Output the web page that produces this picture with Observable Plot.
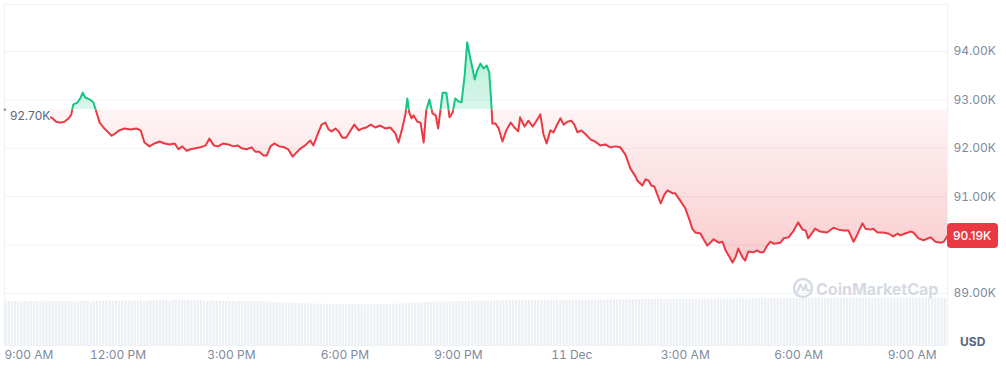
<!DOCTYPE html>
<html><head><meta charset="utf-8">
<script src="https://cdn.jsdelivr.net/npm/d3@7"></script>
<script src="https://cdn.jsdelivr.net/npm/@observablehq/plot@0.6"></script>
<style>
html,body{margin:0;padding:0;background:#fff;}
#chart{position:relative;width:1006px;height:370px;font-family:Inter,sans-serif;}
#chart svg{position:absolute;left:0;top:0;}
</style></head><body><div id="chart"></div>
<script>
// minutes after 9:00 AM (10 Dec), price in USD
const priceSeries = [[0,92800],[10,92780],[25,92720],[41,92700],[57,92680],[70,92660],[76,92620],[82,92550],[89,92530],[95,92550],[102,92620],[106,92700],[109,92900],[116,92950],[121,93050],[124,93150],[128,93050],[135,93010],[141,92950],[146,92740],[151,92530],[157,92430],[163,92350],[170,92260],[176,92310],[182,92370],[190,92410],[200,92390],[209,92410],[216,92370],[222,92120],[230,92040],[238,92100],[246,92140],[254,92100],[262,92080],[270,92100],[276,91980],[282,92040],[289,91950],[295,91980],[303,92000],[311,92020],[319,92060],[325,92200],[332,92060],[339,92040],[347,92100],[355,92080],[363,92040],[370,92060],[376,92000],[384,91980],[392,92020],[398,91930],[404,91930],[411,91850],[416,91850],[422,92040],[428,92100],[436,92040],[444,92020],[450,91980],[457,91830],[463,91910],[470,92000],[477,92060],[485,92160],[490,92060],[496,92260],[503,92490],[509,92530],[514,92390],[519,92350],[525,92410],[530,92350],[536,92220],[542,92220],[549,92370],[555,92490],[562,92370],[568,92410],[574,92430],[581,92490],[588,92430],[596,92470],[604,92410],[612,92430],[620,92310],[625,92120],[631,92410],[636,92700],[639,93030],[642,92740],[646,92620],[649,92680],[655,92550],[660,92530],[665,92120],[669,92780],[674,93010],[679,92720],[684,92680],[688,92410],[695,93150],[701,93150],[706,92640],[711,92740],[715,93030],[720,92970],[725,92950],[730,93500],[734,94190],[739,93860],[746,93420],[750,93610],[755,93750],[760,93650],[765,93710],[769,93570],[772,92990],[774,92510],[779,92510],[784,92410],[790,92140],[796,92370],[803,92530],[809,92430],[815,92350],[818,92640],[825,92450],[831,92570],[838,92450],[844,92570],[850,92700],[855,92290],[860,92100],[866,92370],[871,92330],[876,92470],[882,92620],[887,92490],[893,92550],[899,92570],[904,92490],[909,92330],[915,92370],[922,92290],[930,92180],[937,92140],[945,92060],[953,92080],[961,92020],[969,92040],[977,92020],[985,91870],[993,91580],[1001,91420],[1004,91330],[1012,91230],[1017,91360],[1022,91330],[1026,91230],[1031,91210],[1036,91030],[1041,90860],[1047,91050],[1052,91130],[1060,91070],[1064,91070],[1072,90920],[1080,90760],[1087,90510],[1091,90340],[1096,90260],[1104,90240],[1110,90100],[1115,89990],[1125,90120],[1133,90050],[1139,90070],[1144,89890],[1150,89760],[1155,89640],[1160,89760],[1164,89930],[1171,89740],[1175,89680],[1180,89870],[1188,89850],[1194,89890],[1199,89850],[1204,89850],[1210,89990],[1215,90070],[1220,90030],[1231,90050],[1236,90140],[1244,90160],[1252,90300],[1259,90470],[1266,90320],[1271,90300],[1275,90140],[1286,90340],[1294,90280],[1305,90260],[1315,90360],[1323,90320],[1331,90300],[1339,90300],[1347,90070],[1350,90140],[1361,90450],[1366,90340],[1374,90320],[1378,90340],[1385,90260],[1394,90260],[1402,90240],[1410,90180],[1417,90240],[1421,90200],[1429,90240],[1437,90280],[1442,90260],[1450,90140],[1458,90100],[1469,90160],[1477,90070],[1485,90050],[1490,90070],[1496,90190]];

// 5-minute volume bars (relative units)
const volumes = [
478,480,476,481,480,470,482,480,479,481,480,468,480,482,481,479,472,480,481,480,
480,482,470,481,483,484,482,470,484,485,483,484,485,486,484,485,478,486,485,484,
486,487,485,488,476,486,490,492,488,494,495,490,480,493,496,494,498,492,496,486,
494,490,495,480,482,486,480,484,481,480,482,480,481,478,481,480,482,480,479,481,
480,478,475,472,470,468,466,465,463,462,460,458,457,456,455,455,454,453,452,452,
451,450,450,449,448,448,447,447,446,446,445,445,446,446,445,446,447,446,447,448,
448,449,450,450,452,453,455,456,458,460,462,463,465,466,468,470,471,472,474,475,
476,477,478,479,480,480,481,482,482,483,484,484,485,486,485,486,487,486,487,488,
488,487,488,489,488,489,490,489,490,490,491,490,491,492,491,492,493,492,493,494,
494,493,494,495,494,495,496,495,496,497,496,497,498,497,498,498,499,498,499,500,
500,499,500,501,500,501,502,501,502,503,502,503,504,503,504,504,505,504,505,506,
506,505,506,507,506,507,508,507,508,508,509,508,509,510,509,510,510,509,510,511,
511,510,511,512,511,512,512,511,512,513,512,513,513,512,513,514,513,514,514,513,
514,513,514,514,515,514,515,515,514,515,516,515,516,516,515,516,516,515,516,517,
516,517,517,516,517,517,518,517,518,517,518,518,517,518,518,517,518,519,518,518];

const baseline = 92800;
const openLabel = "92.70K";
const lastLabel = "90.19K";
const xTicks = [0,180,360,540,720,900,1080,1260,1440];
const xTickLabels = ["9:00 AM","12:00 PM","3:00 PM","6:00 PM","9:00 PM","11 Dec","3:00 AM","6:00 AM","9:00 AM"];
const yTicks = [89000,90000,91000,92000,93000,94000];
const domainEnd = 1496;
const unitLabel = "USD";
const watermark = "CoinMarketCap";

const RED = "#ea3943", GREEN = "#16c784", GRID = "#eff2f5", TXT = "#808a9d";
const W = 1006, H = 370;
const data = priceSeries.map(([t, p]) => ({t, p}));
const volData = volumes.map((v, i) => ({t0: i * 5, t1: i * 5 + 5, v}));
const fmtK = d => (d / 1000).toFixed(2) + "K";
const lastPrice = data[data.length - 1].p;
const yDomain = [87926, 94971];
// tick labels hidden behind the last-price tag (as in the reference)
const pxPerUnit = (370 - 4 - 25) / (yDomain[1] - yDomain[0]);
const yLabelTicks = yTicks.filter(t => Math.abs(t - lastPrice) * pxPerUnit > 14);

const common = {width: W, height: H, marginLeft: 4, marginRight: 59, marginBottom: 25,
  style: {fontFamily: "Inter, sans-serif", fontSize: "12px", background: "transparent", color: TXT, overflow: "visible"}};

const volPlot = Plot.plot({...common, marginTop: 290,
  y: {domain: [0, 600], axis: null},
  x: {domain: [0, domainEnd], axis: null},
  marks: [Plot.rectY(volData, {x1: "t0", x2: "t1", y: "v", fill: "#eceff3", insetLeft: 0.5, insetRight: 0.5, clip: true})]
});

const pricePlot = Plot.plot({...common, marginTop: 4,
  x: {domain: [0, domainEnd], label: null},
  y: {domain: yDomain, label: null},
  marks: [
    Plot.frame({stroke: GRID}),
    Plot.gridY(yTicks, {stroke: GRID, strokeOpacity: 1}),
    Plot.areaY(data, {x: "t", y1: baseline, y2: "p", fill: RED}),
    Plot.areaY(data, {x: "t", y1: baseline, y2: "p", fill: GREEN}),
    Plot.line(data, {x: "t", y: "p", stroke: RED, strokeWidth: 2}),
    Plot.line(data, {x: "t", y: "p", stroke: GREEN, strokeWidth: 2}),
    Plot.axisY(yLabelTicks, {anchor: "right", tickSize: 0, tickPadding: 6, tickFormat: fmtK, fill: TXT, label: null}),
    Plot.axisX(xTicks.slice(0, 1), {tickSize: 0, tickPadding: 5, textAnchor: "start", fill: TXT, label: null, tickFormat: d => xTickLabels[xTicks.indexOf(d)]}),
    Plot.axisX(xTicks.slice(1), {tickSize: 0, tickPadding: 5, fill: TXT, label: null, tickFormat: d => xTickLabels[xTicks.indexOf(d)]})
  ]
});

const chart = document.getElementById("chart");
chart.appendChild(volPlot);
chart.appendChild(pricePlot);

// decorations using the library's scales
const NS = "http://www.w3.org/2000/svg";
const el = (name, attrs, parent) => { const e = document.createElementNS(NS, name); for (const k in attrs) e.setAttribute(k, attrs[k]); parent.appendChild(e); return e; };
const ys = pricePlot.scale("y"), xs = pricePlot.scale("x");
const yb = ys.apply(baseline);
const yMin = ys.apply(d3.min(data, d => d.p)), yMax = ys.apply(d3.max(data, d => d.p));
const defs = el("defs", {}, pricePlot);
pricePlot.insertBefore(defs, pricePlot.firstChild);
const rg = el("linearGradient", {id: "redGrad", gradientUnits: "userSpaceOnUse", x1: 0, x2: 0, y1: yb, y2: yMin}, defs);
el("stop", {offset: 0, "stop-color": RED, "stop-opacity": 0.05}, rg);
el("stop", {offset: 1, "stop-color": RED, "stop-opacity": 0.26}, rg);
const gg = el("linearGradient", {id: "greenGrad", gradientUnits: "userSpaceOnUse", x1: 0, x2: 0, y1: yb, y2: yMax}, defs);
el("stop", {offset: 0, "stop-color": GREEN, "stop-opacity": 0.16}, gg);
el("stop", {offset: 1, "stop-color": GREEN, "stop-opacity": 0.32}, gg);
const ca = el("clipPath", {id: "clipAbove"}, defs);
el("rect", {x: 0, y: 0, width: W, height: yb}, ca);
const cb = el("clipPath", {id: "clipBelow"}, defs);
el("rect", {x: 0, y: yb, width: W, height: H - yb}, cb);

const areas = pricePlot.querySelectorAll('g[aria-label="area"]');
areas[0].setAttribute("fill", "url(#redGrad)"); areas[0].setAttribute("clip-path", "url(#clipBelow)");
areas[1].setAttribute("fill", "url(#greenGrad)"); areas[1].setAttribute("clip-path", "url(#clipAbove)");
const lines = pricePlot.querySelectorAll('g[aria-label="line"]');
lines[0].setAttribute("clip-path", "url(#clipBelow)");
lines[1].setAttribute("clip-path", "url(#clipAbove)");
lines.forEach(g => { g.setAttribute("stroke-linejoin", "round"); g.setAttribute("stroke-linecap", "round"); });

// first x tick label anchored at start
const xAxes = pricePlot.querySelectorAll('g[aria-label="x-axis tick label"]');
if (xAxes.length) xAxes[0].setAttribute("text-anchor", "start");

// opening price label (left)
const x0 = xs.apply(0);
el("rect", {x: x0 + 2, y: yb - 4, width: 44, height: 20, fill: "#fff"}, pricePlot);
const tOpen = el("text", {x: x0 + 6, y: yb + 6, "text-anchor": "start", "dominant-baseline": "central", fill: "#58667e", "font-size": 12}, pricePlot);
tOpen.textContent = openLabel;

// last price tag (right)
const yl = ys.apply(lastPrice), xr = xs.apply(domainEnd);
el("rect", {x: xr, y: yl - 12.5, width: 51, height: 25, rx: 4, fill: RED}, pricePlot);
const tLast = el("text", {x: xr + 6, y: yl + 0.5, "text-anchor": "start", "dominant-baseline": "central", fill: "#fff", "font-size": 12, "font-weight": 500}, pricePlot);
tLast.textContent = lastLabel;

// currency unit
const tU = el("text", {x: xr + 13, y: H - 24, "text-anchor": "start", fill: "#58667e", "font-size": 12, "font-weight": 700}, pricePlot);
tU.textContent = unitLabel;

// watermark
const WM = "#d5dae2";
const wm = el("g", {fill: WM, stroke: "none"}, pricePlot);
const cx = xr - 144, cy = ys.apply(89000) - 5;
el("circle", {cx, cy, r: 9, fill: "none", stroke: WM, "stroke-width": 2.4}, wm);
el("path", {d: `M${cx-5.5},${cy+3.5} L${cx-2.5},${cy-3.5} L${cx+0.5},${cy+2.5} L${cx+3},${cy-3.5} L${cx+3.5},${cy+1} Q${cx+4.5},${cy+4} ${cx+6.5},${cy+2}`, fill: "none", stroke: WM, "stroke-width": 2, "stroke-linejoin": "round", "stroke-linecap": "round"}, wm);
const tw = el("text", {x: cx + 13, y: cy + 7, "text-anchor": "start", "font-size": 16, "font-weight": 700}, wm);
tw.textContent = watermark;
</script></body></html>
